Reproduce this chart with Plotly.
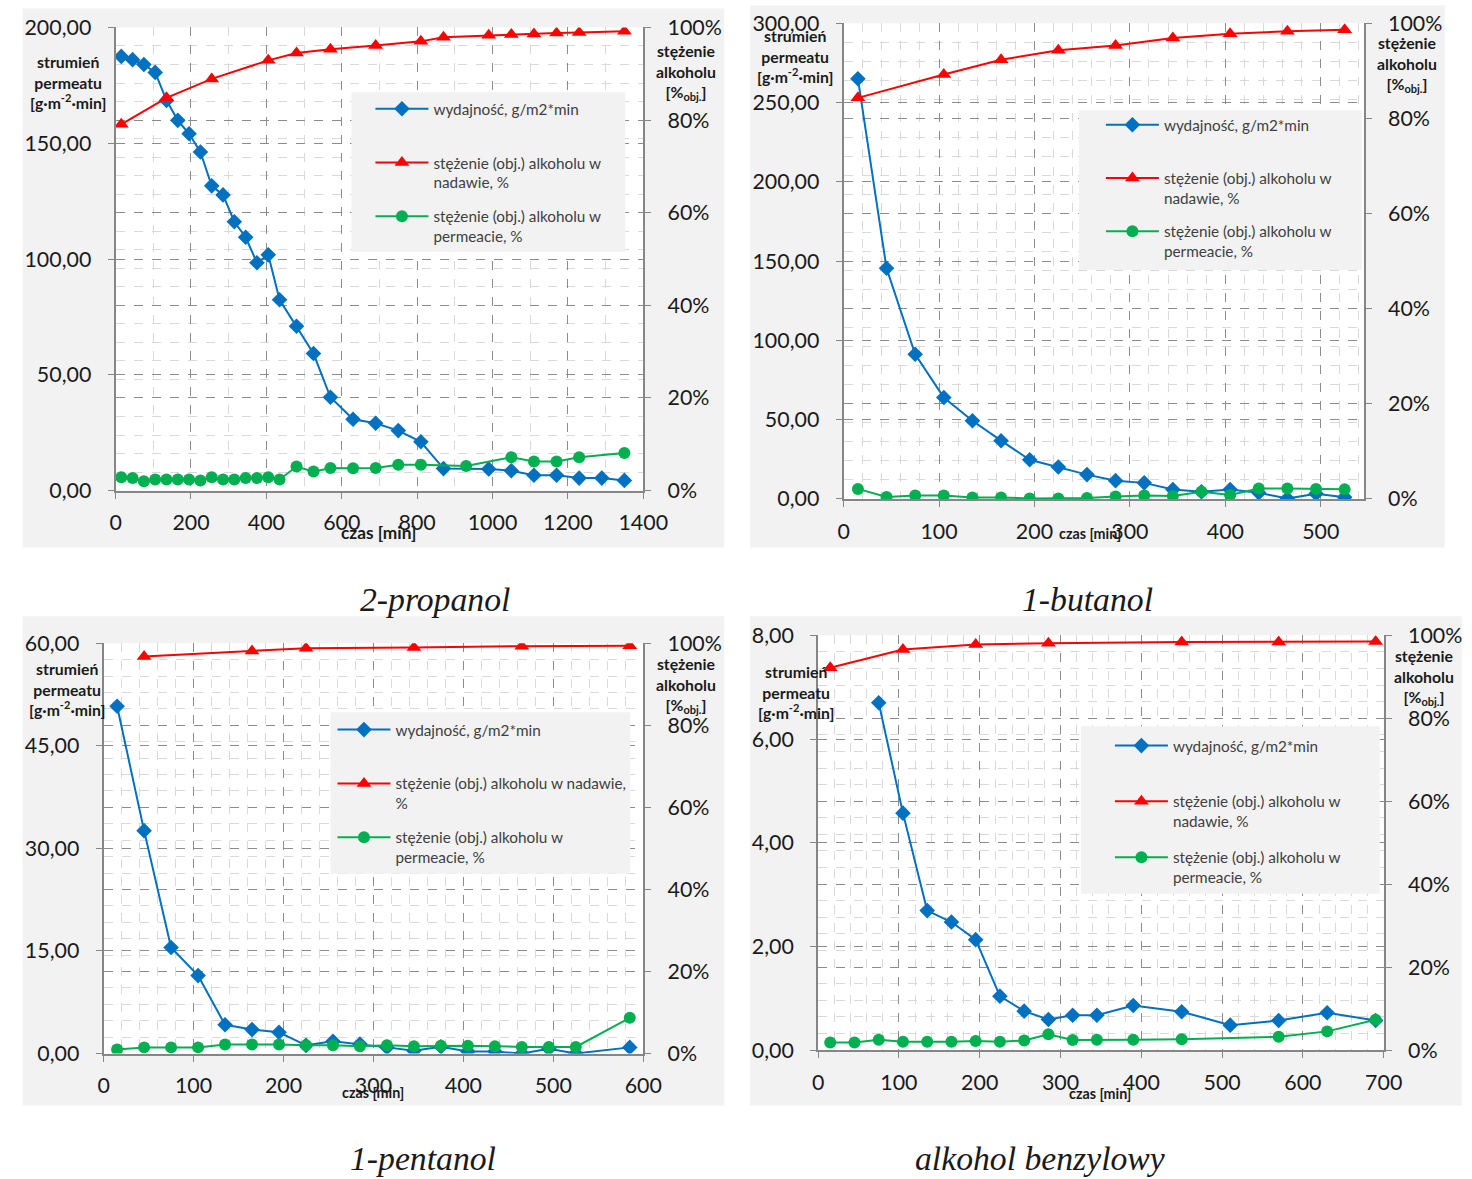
import plotly.graph_objects as go

# ---------------- data ----------------
# 2-propanol
p_t_flux = [15, 45, 75, 105, 135, 165, 195, 225, 255, 285, 315, 345, 375, 405, 435,
            480, 525, 570, 630, 690, 750, 810, 870, 990, 1050, 1110, 1170, 1230, 1290, 1350]
p_flux = [187.5, 186.1, 184.0, 180.6, 168.5, 159.9, 154.1, 146.2, 131.6, 127.7, 116.1, 109.4, 98.4, 101.8, 82.4,
          71.0, 59.2, 40.3, 30.8, 29.1, 25.9, 21.1, 9.5, 9.3, 8.6, 6.6, 6.6, 5.4, 5.4, 4.4]
p_t_feed = [15, 135, 255, 405, 480, 570, 690, 810, 870, 990, 1050, 1110, 1170, 1230, 1350]
p_feed = [79.1, 84.8, 88.9, 92.9, 94.5, 95.3, 96.1, 97.0, 97.9, 98.3, 98.5, 98.6, 98.8, 98.9, 99.2]
p_t_perm = [15, 45, 75, 105, 135, 165, 195, 225, 255, 285, 315, 345, 375, 405, 435,
            480, 525, 570, 630, 690, 750, 810, 930, 1050, 1110, 1170, 1230, 1350]
p_perm = [2.9, 2.7, 2.0, 2.4, 2.4, 2.4, 2.4, 2.2, 2.9, 2.4, 2.4, 2.7, 2.7, 2.9, 2.4,
          5.2, 4.1, 4.9, 4.8, 4.9, 5.6, 5.6, 5.3, 7.2, 6.3, 6.3, 7.2, 8.1]

# 1-butanol
b_t = [15, 45, 75, 105, 135, 165, 195, 225, 255, 285, 315, 345, 375, 405, 435, 465, 495, 525]
b_flux = [265.0, 145.4, 91.2, 63.9, 49.3, 36.7, 24.7, 20.1, 15.3, 11.5, 10.1, 5.9, 4.5, 5.9, 3.8, 0.2, 3.3, 1.0]
b_t_feed = [15, 105, 165, 225, 285, 345, 405, 465, 525]
b_feed = [84.3, 89.2, 92.3, 94.3, 95.3, 96.9, 97.8, 98.3, 98.6]
b_perm = [2.1, 0.4, 0.7, 0.7, 0.3, 0.3, 0.1, 0.1, 0.2, 0.5, 0.7, 0.6, 1.5, 0.8, 2.2, 2.2, 2.1, 2.0]

# 1-pentanol
n_t = [15, 45, 75, 105, 135, 165, 195, 225, 255, 285, 315, 345, 375, 405, 435, 465, 495, 525, 585]
n_flux = [50.8, 32.6, 15.5, 11.4, 4.2, 3.5, 3.1, 1.2, 1.8, 1.4, 0.9, 0.4, 1.0, 0.3, 0.3, 0.0, 0.7, 0.0, 0.9]
n_t_feed = [45, 165, 225, 345, 465, 585]
n_feed = [96.8, 98.1, 98.8, 99.0, 99.3, 99.4]
n_perm = [1.0, 1.5, 1.5, 1.5, 2.2, 2.2, 2.2, 2.0, 2.0, 1.8, 2.0, 1.8, 1.9, 1.9, 1.8, 1.6, 1.6, 1.6, 8.7]

# alkohol benzylowy
a_t_flux = [75, 105, 135, 165, 195, 225, 255, 285, 315, 345, 390, 450, 510, 570, 630, 690]
a_flux = [6.70, 4.57, 2.69, 2.47, 2.13, 1.04, 0.75, 0.59, 0.67, 0.67, 0.86, 0.74, 0.48, 0.57, 0.72, 0.57]
a_t_perm = [15, 45, 75, 105, 135, 165, 195, 225, 255, 285, 315, 345, 390, 450, 570, 630, 690]
a_perm = [1.8, 1.8, 2.5, 2.0, 2.0, 2.0, 2.2, 2.0, 2.3, 3.8, 2.4, 2.5, 2.5, 2.6, 3.2, 4.5, 7.3]
a_t_feed = [15, 105, 195, 285, 450, 570, 690]
a_feed = [92.2, 96.6, 97.8, 98.1, 98.4, 98.4, 98.5]

names = ["wydajność, g/m2*min",
         "stężenie (obj.) alkoholu w<br>nadawie, %",
         "stężenie (obj.) alkoholu w<br>permeacie, %"]
name_red_pent = "stężenie (obj.) alkoholu w nadawie,<br>%"
titles = ["2-propanol", "1-butanol", "1-pentanol", "alkohol benzylowy"]

BLUE, RED, GREEN = "#0070C0", "#FF0000", "#00B050"
FONT = "Lato"
GRID_MAJ = "#8c8c8c"
GRID_MIN = "#d9d9d9"
AXCOL = "#868686"
TXT = "#1a1a1a"

# The page is photographed with a small zoom/offset; positions below are given
# in the target picture's pixels and converted to figure pixels.
SC, OX, OY = 0.98, 5.3, 13.5
W, H = 1497, 1190


def X(px):
    return (px - OX) / SC


def Y(py):
    return (py - OY) / SC


def fx(px):
    return X(px) / W


def fy(py):
    return 1 - Y(py) / H


def fs(s):
    return round(s / SC, 1)


# chart geometry (target pixels): plot area [x0,x1,y0,y1], panel [x0,x1,y0,y1]
charts = [
    dict(plot=(115, 643, 27, 491), panel=(22, 724, 8, 548), xr=[0, 1400], xd=200, xm=100,
         yr=[0, 200], yd=50, leg=(351, 625, 92, 252), legpos=(370, 92),
         lt=(67, 82), rt=(686, 72), xt=(378, 533, 17), title=(435, 600)),
    dict(plot=(843.5, 1364, 22.7, 499.3), panel=(750, 1445, 5, 548), xr=[0, 545], xd=100, xm=20,
         yr=[0, 300], yd=50, leg=(1079, 1362, 110, 270), legpos=(1101, 108),
         lt=(795, 56), rt=(1407, 64), xt=(1090, 534, 14), title=(1088, 600)),
    dict(plot=(103, 643, 644, 1055), panel=(22, 724, 617, 1107), xr=[0, 600], xd=100, xm=20,
         yr=[0, 60], yd=15, leg=(330, 630, 713, 875), legpos=(332, 714),
         lt=(66, 690), rt=(686, 686), xt=(373, 1094, 14), title=(423, 1160)),
    dict(plot=(818, 1384, 636, 1051.5), panel=(750, 1462, 617, 1107), xr=[0, 700], xd=100, xm=20,
         yr=[0, 8], yd=2, leg=(1081, 1380, 727, 895), legpos=(1110, 730),
         lt=(796, 693), rt=(1424, 678), xt=(1100, 1095, 14), title=(1040, 1160)),
]
leg_gap = [11, 10.5, 11, 13]

series = [
    (p_t_flux, p_flux, p_t_feed, p_feed, p_t_perm, p_perm),
    (b_t, b_flux, b_t_feed, b_feed, b_t, b_perm),
    (n_t, n_flux, n_t_feed, n_feed, n_t, n_perm),
    (a_t_flux, a_flux, a_t_feed, a_feed, a_t_perm, a_perm),
]

fig = go.Figure()
layout = dict(width=W, height=H, autosize=False, margin=dict(l=0, r=0, t=0, b=0),
              paper_bgcolor="white", plot_bgcolor="rgba(0,0,0,0)", separators=", ",
              font=dict(family=FONT, color=TXT), showlegend=True)
shapes = []
annotations = []

for i, (c, s) in enumerate(zip(charts, series)):
    k = i + 1
    xa = "x" if k == 1 else f"x{k}"
    yl_n = 2 * i + 1
    yr_n = 2 * i + 2
    yl = "y" if yl_n == 1 else f"y{yl_n}"
    yr = f"y{yr_n}"
    legname = "legend" if k == 1 else f"legend{k}"
    px0, px1, py0, py1 = c["plot"]

    tf, fl, tfe, fe, tp, pe = s
    nm = names[:]
    if k == 3:
        nm[1] = name_red_pent
    nm[0] = nm[0] + "<br>\u00a0"
    fig.add_trace(go.Scatter(x=tf, y=fl, xaxis=xa, yaxis=yl, mode="lines+markers", name=nm[0],
                             line=dict(color=BLUE, width=2), marker=dict(symbol="diamond", size=12, color=BLUE),
                             legend=legname, legendgroup=f"g{k}a"))
    fig.add_trace(go.Scatter(x=tfe, y=fe, xaxis=xa, yaxis=yr, mode="lines+markers", name=nm[1],
                             line=dict(color=RED, width=2), marker=dict(symbol="triangle-up", size=13, color=RED),
                             legend=legname, legendgroup=f"g{k}b"))
    fig.add_trace(go.Scatter(x=tp, y=pe, xaxis=xa, yaxis=yr, mode="lines+markers", name=nm[2],
                             line=dict(color=GREEN, width=2), marker=dict(symbol="circle", size=12, color=GREEN),
                             legend=legname, legendgroup=f"g{k}c"))

    xkey = "xaxis" if k == 1 else f"xaxis{k}"
    ylkey = "yaxis" if yl_n == 1 else f"yaxis{yl_n}"
    yrkey = f"yaxis{yr_n}"
    dom_x = [fx(px0), fx(px1)]
    dom_y = [fy(py1), fy(py0)]
    tick_font = dict(size=fs(21), color=TXT, family=FONT)
    layout[xkey] = dict(domain=dom_x, anchor=yl, range=c["xr"], dtick=c["xd"], tick0=0,
                        showline=True, linecolor=AXCOL, linewidth=2, ticks="outside", ticklen=6,
                        tickcolor=AXCOL, tickwidth=1, tickfont=tick_font,
                        ticklabelstandoff=6,
                        showgrid=True, gridcolor=GRID_MAJ, griddash="dash", gridwidth=1, zeroline=False,
                        minor=dict(dtick=c["xm"], showgrid=True, gridcolor=GRID_MIN, griddash="dash", gridwidth=1),
                        fixedrange=True)
    layout[ylkey] = dict(domain=dom_y, anchor=xa, range=c["yr"], dtick=c["yd"], tick0=0, tickformat=".2f",
                         showline=True, linecolor=AXCOL, linewidth=2, ticks="outside", ticklen=6,
                         tickcolor=AXCOL, tickwidth=1, tickfont=tick_font,
                         ticklabelstandoff=12,
                         showgrid=True, gridcolor=GRID_MAJ, griddash="dash", gridwidth=1, zeroline=False,
                         fixedrange=True)
    layout[yrkey] = dict(domain=dom_y, anchor=xa, overlaying=yl, side="right", range=[0, 100], dtick=20,
                         tick0=0, ticksuffix="%",
                         showline=True, linecolor=AXCOL, linewidth=2, ticks="outside", ticklen=6,
                         tickcolor=AXCOL, tickwidth=1, tickfont=tick_font,
                         ticklabelstandoff=12,
                         showgrid=True, gridcolor=GRID_MAJ, griddash="dash", gridwidth=1, zeroline=False,
                         minor=dict(dtick=4, showgrid=True, gridcolor=GRID_MIN, griddash="dash", gridwidth=1),
                         fixedrange=True)

    lx, ly = c["legpos"]
    layout[legname] = dict(x=fx(lx), y=fy(ly), xanchor="left", yanchor="top", xref="paper", yref="paper",
                           bgcolor="rgba(0,0,0,0)", font=dict(size=fs(15), color="#404040", family=FONT),
                           tracegroupgap=leg_gap[i], itemwidth=53, valign="top", traceorder="grouped")

    # panel, plot area and legend boxes
    a0, a1, b0, b1 = c["panel"]
    shapes.append(dict(type="rect", xref="paper", yref="paper", x0=fx(a0), x1=fx(a1), y0=fy(b1), y1=fy(b0),
                       fillcolor="#f2f2f2", line=dict(width=0), layer="below"))
    shapes.append(dict(type="rect", xref="paper", yref="paper", x0=fx(px0), x1=fx(px1), y0=fy(py1), y1=fy(py0),
                       fillcolor="white", line=dict(width=0), layer="below"))
    g0, g1, h0, h1 = c["leg"]
    shapes.append(dict(type="rect", xref="paper", yref="paper", x0=fx(g0), x1=fx(g1), y0=fy(h1), y1=fy(h0),
                       fillcolor="#f2f2f2", line=dict(width=0), layer="above"))

    # axis titles
    ltx, lty = c["lt"]
    annotations.append(dict(x=fx(ltx), y=fy(lty), xref="paper", yref="paper", showarrow=False,
                            text="<b>strumień<br>permeatu<br>[g·m<sup>-2</sup>·min]</b>",
                            font=dict(size=fs(15.5), color=TXT, family=FONT), xanchor="center", yanchor="middle",
                            align="center"))
    rtx, rty = c["rt"]
    annotations.append(dict(x=fx(rtx), y=fy(rty), xref="paper", yref="paper", showarrow=False,
                            text="<b>stężenie<br>alkoholu<br>[%<sub>obj.</sub>]</b>",
                            font=dict(size=fs(15.5), color=TXT, family=FONT), xanchor="center", yanchor="middle",
                            align="center"))
    xtx, xty, xts = c["xt"]
    annotations.append(dict(x=fx(xtx), y=fy(xty), xref="paper", yref="paper", showarrow=False,
                            text="<b>czas [min]</b>", font=dict(size=fs(xts), color=TXT, family=FONT),
                            xanchor="center", yanchor="middle"))
    ttx, tty = c["title"]
    annotations.append(dict(x=fx(ttx), y=fy(tty), xref="paper", yref="paper", showarrow=False,
                            text=f"<i>{titles[i]}</i>", font=dict(size=fs(33), color=TXT, family="Liberation Serif"),
                            xanchor="center", yanchor="middle"))

layout["shapes"] = shapes
layout["annotations"] = annotations
fig.update_layout(**layout)
fig.write_html("out.html", config={"displayModeBar": False},
               post_script="document.body.style.margin='0';document.body.style.padding='0';"
                           "document.documentElement.style.overflow='hidden';"
                           "document.body.style.overflow='hidden';")
